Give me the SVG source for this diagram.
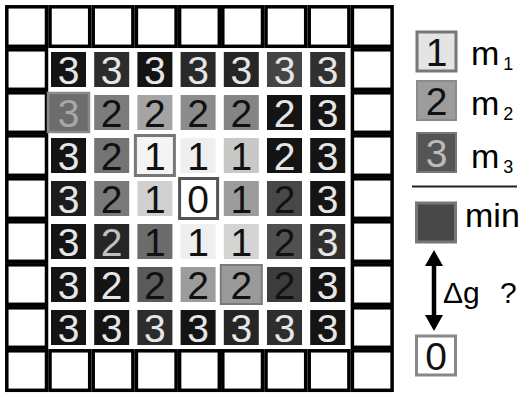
<svg xmlns="http://www.w3.org/2000/svg" width="523" height="394" viewBox="0 0 523 394">
<style>
.b{fill:#fff;stroke:#000;stroke-width:3.5}
text{font-family:"Liberation Sans",Arial,sans-serif}
.n{font-size:39px;text-anchor:middle}
.L{fill:#e6e6e6}
.D{fill:#111}
.lab{font-size:34px;fill:#000}
.sub{font-size:18px}
</style>
<defs>
<marker id="ah" viewBox="0 0 16 18" refX="4" refY="9" markerWidth="16" markerHeight="18" markerUnits="userSpaceOnUse" orient="auto-start-reverse">
<path d="M0,0 L16,9 L0,18 z" fill="#000"/>
</marker>
</defs>
<rect width="523" height="394" fill="#fff"/>
<g id="border">
<g id="b00"><rect class="b" x="6.8" y="6.8" width="39.7" height="39.5"/></g>
<g id="b01"><rect class="b" x="50" y="6.8" width="39.7" height="39.5"/></g>
<g id="b02"><rect class="b" x="93.2" y="6.8" width="39.7" height="39.5"/></g>
<g id="b03"><rect class="b" x="136.4" y="6.8" width="39.7" height="39.5"/></g>
<g id="b04"><rect class="b" x="179.6" y="6.8" width="39.7" height="39.5"/></g>
<g id="b05"><rect class="b" x="222.8" y="6.8" width="39.7" height="39.5"/></g>
<g id="b06"><rect class="b" x="266" y="6.8" width="39.7" height="39.5"/></g>
<g id="b07"><rect class="b" x="309.2" y="6.8" width="39.7" height="39.5"/></g>
<g id="b08"><rect class="b" x="352.4" y="6.8" width="39.7" height="39.5"/></g>
<g id="b80"><rect class="b" x="6.8" y="350.8" width="39.7" height="39.5"/></g>
<g id="b81"><rect class="b" x="50" y="350.8" width="39.7" height="39.5"/></g>
<g id="b82"><rect class="b" x="93.2" y="350.8" width="39.7" height="39.5"/></g>
<g id="b83"><rect class="b" x="136.4" y="350.8" width="39.7" height="39.5"/></g>
<g id="b84"><rect class="b" x="179.6" y="350.8" width="39.7" height="39.5"/></g>
<g id="b85"><rect class="b" x="222.8" y="350.8" width="39.7" height="39.5"/></g>
<g id="b86"><rect class="b" x="266" y="350.8" width="39.7" height="39.5"/></g>
<g id="b87"><rect class="b" x="309.2" y="350.8" width="39.7" height="39.5"/></g>
<g id="b88"><rect class="b" x="352.4" y="350.8" width="39.7" height="39.5"/></g>
<g id="b10"><rect class="b" x="6.8" y="49.8" width="39.7" height="39.5"/></g>
<g id="b20"><rect class="b" x="6.8" y="92.8" width="39.7" height="39.5"/></g>
<g id="b30"><rect class="b" x="6.8" y="135.8" width="39.7" height="39.5"/></g>
<g id="b40"><rect class="b" x="6.8" y="178.8" width="39.7" height="39.5"/></g>
<g id="b50"><rect class="b" x="6.8" y="221.8" width="39.7" height="39.5"/></g>
<g id="b60"><rect class="b" x="6.8" y="264.8" width="39.7" height="39.5"/></g>
<g id="b70"><rect class="b" x="6.8" y="307.8" width="39.7" height="39.5"/></g>
<g id="b18"><rect class="b" x="352.4" y="49.8" width="39.7" height="39.5"/></g>
<g id="b28"><rect class="b" x="352.4" y="92.8" width="39.7" height="39.5"/></g>
<g id="b38"><rect class="b" x="352.4" y="135.8" width="39.7" height="39.5"/></g>
<g id="b48"><rect class="b" x="352.4" y="178.8" width="39.7" height="39.5"/></g>
<g id="b58"><rect class="b" x="352.4" y="221.8" width="39.7" height="39.5"/></g>
<g id="b68"><rect class="b" x="352.4" y="264.8" width="39.7" height="39.5"/></g>
<g id="b78"><rect class="b" x="352.4" y="307.8" width="39.7" height="39.5"/></g>
</g>
<g id="cells">
<!-- row 1 -->
<g id="c11" transform="translate(51,52)"><rect width="35" height="35" fill="#141414"/><text class="n L" x="17.5" y="31.5">3</text></g>
<g id="c12" transform="translate(94.2,52)"><rect width="35" height="35" fill="#2c2c2c"/><text class="n L" x="17.5" y="31.5">3</text></g>
<g id="c13" transform="translate(137.4,52)"><rect width="35" height="35" fill="#141414"/><text class="n L" x="17.5" y="31.5">3</text></g>
<g id="c14" transform="translate(180.6,52)"><rect width="35" height="35" fill="#2a2a2a"/><text class="n L" x="17.5" y="31.5">3</text></g>
<g id="c15" transform="translate(223.8,52)"><rect width="35" height="35" fill="#262626"/><text class="n L" x="17.5" y="31.5">3</text></g>
<g id="c16" transform="translate(267,52)"><rect width="35" height="35" fill="#444"/><text class="n L" x="17.5" y="31.5">3</text></g>
<g id="c17" transform="translate(310.2,52)"><rect width="35" height="35" fill="#303030"/><text class="n L" x="17.5" y="31.5">3</text></g>
<!-- row 2 -->
<g id="c21" transform="translate(51,95)"><rect x="-3" y="-2" width="41" height="39" fill="#6c6c6c" stroke="#8a8a8a" stroke-width="2.5"/><text class="n" fill="#a8a8a8" x="17.5" y="31.5">3</text></g>
<g id="c22" transform="translate(94.2,95)"><rect width="35" height="35" fill="#7c7c7c"/><text class="n D" x="17.5" y="31.5">2</text></g>
<g id="c23" transform="translate(137.4,95)"><rect width="35" height="35" fill="#a4a4a4"/><text class="n D" x="17.5" y="31.5">2</text></g>
<g id="c24" transform="translate(180.6,95)"><rect width="35" height="35" fill="#8c8c8c"/><text class="n D" x="17.5" y="31.5">2</text></g>
<g id="c25" transform="translate(223.8,95)"><rect width="35" height="35" fill="#848484"/><text class="n D" x="17.5" y="31.5">2</text></g>
<g id="c26" transform="translate(267,95)"><rect width="35" height="35" fill="#141414"/><text class="n L" x="17.5" y="31.5">2</text></g>
<g id="c27" transform="translate(310.2,95)"><rect width="35" height="35" fill="#141414"/><text class="n L" x="17.5" y="31.5">3</text></g>
<!-- row 3 -->
<g id="c31" transform="translate(51,138)"><rect width="35" height="35" fill="#141414"/><text class="n L" x="17.5" y="31.5">3</text></g>
<g id="c32" transform="translate(94.2,138)"><rect width="35" height="35" fill="#747474"/><text class="n D" x="17.5" y="31.5">2</text></g>
<g id="c33" transform="translate(137.4,138)"><rect x="-2" y="-2.5" width="39" height="40" fill="#f4f4f4" stroke="#777" stroke-width="3"/><text class="n D" x="17.5" y="31.5">1</text></g>
<g id="c34" transform="translate(180.6,138)"><rect width="35" height="35" fill="#efefef"/><text class="n D" x="17.5" y="31.5">1</text></g>
<g id="c35" transform="translate(223.8,138)"><rect width="35" height="35" fill="#c8c8c8"/><text class="n D" x="17.5" y="31.5">1</text></g>
<g id="c36" transform="translate(267,138)"><rect width="35" height="35" fill="#141414"/><text class="n L" x="17.5" y="31.5">2</text></g>
<g id="c37" transform="translate(310.2,138)"><rect width="35" height="35" fill="#141414"/><text class="n L" x="17.5" y="31.5">3</text></g>
<!-- row 4 -->
<g id="c41" transform="translate(51,181)"><rect width="35" height="35" fill="#1c1c1c"/><text class="n L" x="17.5" y="31.5">3</text></g>
<g id="c42" transform="translate(94.2,181)"><rect width="35" height="35" fill="#7a7a7a"/><text class="n D" x="17.5" y="31.5">2</text></g>
<g id="c43" transform="translate(137.4,181)"><rect width="35" height="35" fill="#d0d0d0"/><text class="n D" x="17.5" y="31.5">1</text></g>
<g id="c44" transform="translate(180.6,181)"><rect x="-1" y="-2.5" width="38" height="40" fill="#fff" stroke="#555" stroke-width="3"/><text class="n D" x="17.5" y="31.5">0</text></g>
<g id="c45" transform="translate(223.8,181)"><rect width="35" height="35" fill="#9c9c9c"/><text class="n D" x="17.5" y="31.5">1</text></g>
<g id="c46" transform="translate(267,181)"><rect width="35" height="35" fill="#484848"/><text class="n D" x="17.5" y="31.5">2</text></g>
<g id="c47" transform="translate(310.2,181)"><rect width="35" height="35" fill="#141414"/><text class="n L" x="17.5" y="31.5">3</text></g>
<!-- row 5 -->
<g id="c51" transform="translate(51,224)"><rect width="35" height="35" fill="#141414"/><text class="n L" x="17.5" y="31.5">3</text></g>
<g id="c52" transform="translate(94.2,224)"><rect width="35" height="35" fill="#262626"/><text class="n" fill="#c0c0c0" x="17.5" y="31.5">2</text></g>
<g id="c53" transform="translate(137.4,224)"><rect width="35" height="35" fill="#6c6c6c"/><text class="n D" x="17.5" y="31.5">1</text></g>
<g id="c54" transform="translate(180.6,224)"><rect width="35" height="35" fill="#efefef"/><text class="n D" x="17.5" y="31.5">1</text></g>
<g id="c55" transform="translate(223.8,224)"><rect width="35" height="35" fill="#d4d4d4"/><text class="n D" x="17.5" y="31.5">1</text></g>
<g id="c56" transform="translate(267,224)"><rect width="35" height="35" fill="#505050"/><text class="n D" x="17.5" y="31.5">2</text></g>
<g id="c57" transform="translate(310.2,224)"><rect width="35" height="35" fill="#303030"/><text class="n L" x="17.5" y="31.5">3</text></g>
<!-- row 6 -->
<g id="c61" transform="translate(51,267)"><rect width="35" height="35" fill="#141414"/><text class="n L" x="17.5" y="31.5">3</text></g>
<g id="c62" transform="translate(94.2,267)"><rect width="35" height="35" fill="#141414"/><text class="n L" x="17.5" y="31.5">2</text></g>
<g id="c63" transform="translate(137.4,267)"><rect width="35" height="35" fill="#5a5a5a"/><text class="n D" x="17.5" y="31.5">2</text></g>
<g id="c64" transform="translate(180.6,267)"><rect width="35" height="35" fill="#9c9c9c"/><text class="n D" x="17.5" y="31.5">2</text></g>
<g id="c65" transform="translate(223.8,267)"><rect x="-3" y="-2" width="41" height="39" fill="#9a9a9a" stroke="#7a7a7a" stroke-width="2"/><text class="n D" x="17.5" y="31.5">2</text></g>
<g id="c66" transform="translate(267,267)"><rect width="35" height="35" fill="#3c3c3c"/><text class="n D" x="17.5" y="31.5">2</text></g>
<g id="c67" transform="translate(310.2,267)"><rect width="35" height="35" fill="#141414"/><text class="n L" x="17.5" y="31.5">3</text></g>
<!-- row 7 -->
<g id="c71" transform="translate(51,310)"><rect width="35" height="35" fill="#141414"/><text class="n L" x="17.5" y="31.5">3</text></g>
<g id="c72" transform="translate(94.2,310)"><rect width="35" height="35" fill="#141414"/><text class="n L" x="17.5" y="31.5">3</text></g>
<g id="c73" transform="translate(137.4,310)"><rect width="35" height="35" fill="#2c2c2c"/><text class="n L" x="17.5" y="31.5">3</text></g>
<g id="c74" transform="translate(180.6,310)"><rect width="35" height="35" fill="#141414"/><text class="n L" x="17.5" y="31.5">3</text></g>
<g id="c75" transform="translate(223.8,310)"><rect width="35" height="35" fill="#262626"/><text class="n L" x="17.5" y="31.5">3</text></g>
<g id="c76" transform="translate(267,310)"><rect width="35" height="35" fill="#2e2e2e"/><text class="n L" x="17.5" y="31.5">3</text></g>
<g id="c77" transform="translate(310.2,310)"><rect width="35" height="35" fill="#141414"/><text class="n L" x="17.5" y="31.5">3</text></g>
</g>
<g id="legend">
<g id="leg1"><rect x="417" y="32" width="39" height="39" fill="#e4e4e4" stroke="#777" stroke-width="3"/><text class="n D" x="436.5" y="65.5">1</text><text class="lab" x="471" y="65">m<tspan class="sub" dx="4" dy="5">1</tspan></text></g>
<g id="leg2"><rect x="417" y="81" width="39" height="39" fill="#9c9c9c" stroke="#8a8a8a" stroke-width="2"/><text class="n D" x="436.5" y="114.5">2</text><text class="lab" x="471" y="115">m<tspan class="sub" dx="4" dy="5">2</tspan></text></g>
<g id="leg3"><rect x="417" y="133" width="39" height="39" fill="#555" stroke="#777" stroke-width="2"/><text class="n" fill="#bbb" x="436.5" y="166.5">3</text><text class="lab" x="471" y="168">m<tspan class="sub" dx="4" dy="5">3</tspan></text></g>
<g id="sep"><line x1="412" y1="186.5" x2="517" y2="186.5" stroke="#222" stroke-width="2"/></g>
<g id="legmin"><rect x="416.5" y="203" width="39" height="39" fill="#484848" stroke="#777" stroke-width="3"/><text class="lab" x="465" y="227">min</text></g>
<g id="leg0"><rect x="416.5" y="336" width="39" height="39" fill="#fff" stroke="#888" stroke-width="3"/><text class="n D" x="436" y="369.5">0</text></g>
<g id="dg"><text class="lab" style="font-size:30px" x="443" y="303">Δg<tspan x="500">?</tspan></text></g>
</g>
<g id="connectors">
<line x1="434" y1="262" x2="434" y2="319" stroke="#000" stroke-width="4.5" marker-start="url(#ah)" marker-end="url(#ah)"/>
</g>
</svg>
